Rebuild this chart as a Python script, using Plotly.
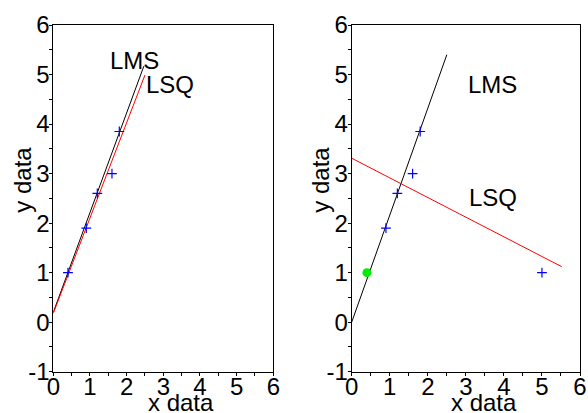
import plotly.graph_objects as go

# data
x_left = [0.4, 0.9, 1.2, 1.6, 1.8]
y_left = [1.0, 1.9, 2.6, 3.0, 3.85]
x_right = [0.9, 1.2, 1.6, 1.8, 5.0]
y_right = [1.9, 2.6, 3.0, 3.85, 1.0]
outlier_orig_x = [0.4]
outlier_orig_y = [1.0]

lms_left_x = [0.0, 2.47]
lms_left_y = [0.2, 5.17]
lsq_left_x = [0.0, 2.5]
lsq_left_y = [0.18, 4.99]

lms_right_x = [0.0, 2.5]
lms_right_y = [0.0, 5.4]
lsq_right_x = [0.0, 5.52]
lsq_right_y = [3.31, 1.12]

tick_vals = [-1, 0, 1, 2, 3, 4, 5, 6]
tick_text = ["-1", "0", "1", "2", "3", "4", "5", "6"]
xtick_vals = [0, 1, 2, 3, 4, 5, 6]
xtick_text = ["0", "1", "2", "3", "4", "5", "6"]

FONT = "Liberation Sans, Arial, sans-serif"
FS = 24

fig = go.Figure()

def add_panel(xa, ya, px, py, lms_x, lms_y, lsq_x, lsq_y):
    fig.add_trace(go.Scatter(x=lms_x, y=lms_y, mode="lines",
                             line=dict(color="black", width=1),
                             xaxis=xa, yaxis=ya, showlegend=False))
    fig.add_trace(go.Scatter(x=lsq_x, y=lsq_y, mode="lines",
                             line=dict(color="red", width=1),
                             xaxis=xa, yaxis=ya, showlegend=False))
    fig.add_trace(go.Scatter(x=px, y=py, mode="markers",
                             marker=dict(symbol="cross-thin", size=7,
                                         line=dict(color="blue", width=1.2)),
                             xaxis=xa, yaxis=ya, showlegend=False))

add_panel("x", "y", x_left, y_left, lms_left_x, lms_left_y, lsq_left_x, lsq_left_y)
add_panel("x2", "y2", x_right, y_right, lms_right_x, lms_right_y, lsq_right_x, lsq_right_y)
fig.add_trace(go.Scatter(x=outlier_orig_x, y=outlier_orig_y, mode="markers",
                         marker=dict(symbol="circle", size=9, color="#00ee00"),
                         xaxis="x2", yaxis="y2", showlegend=False))

axis_common = dict(showgrid=False, zeroline=False, showline=True, linecolor="black",
                   linewidth=1, mirror=True, ticks="outside", ticklen=3, tickcolor="black",
                   automargin=False,
                   tickfont=dict(family=FONT, size=FS, color="black"),
                   minor=dict(dtick=0.5, ticks="outside", ticklen=3, tickcolor="black"))

ydom = [1 - 371.7 / 413, 1 - 25 / 413]
fig.update_layout(
    width=588, height=413,
    margin=dict(l=0, r=0, t=0, b=0, autoexpand=False),
    plot_bgcolor="white", paper_bgcolor="white",
    xaxis=dict(domain=[53.3 / 588, 273.3 / 588], range=[0, 6], tickvals=xtick_vals,
               ticktext=xtick_text, anchor="y", ticklabelstandoff=-10, **axis_common),
    yaxis=dict(domain=ydom, range=[-1, 6], tickvals=tick_vals, ticktext=tick_text,
               anchor="x", ticklabelstandoff=-5, **axis_common),
    xaxis2=dict(domain=[351.7 / 588, 580 / 588], range=[0, 6], tickvals=xtick_vals,
                ticktext=xtick_text, anchor="y2", ticklabelstandoff=-10, **axis_common),
    yaxis2=dict(domain=ydom, range=[-1, 6], tickvals=tick_vals, ticktext=tick_text,
                anchor="x2", ticklabelstandoff=-5, **axis_common),
)

tf = dict(family=FONT, size=FS, color="black")
annots = [
    dict(x=2.22, y=5.29, xref="x", yref="y", text="LMS"),
    dict(x=3.19, y=4.79, xref="x", yref="y", text="LSQ"),
    dict(x=3.71, y=4.79, xref="x2", yref="y2", text="LMS"),
    dict(x=3.71, y=2.52, xref="x2", yref="y2", text="LSQ"),
    dict(x=180.5 / 588, y=1 - 402 / 413, xref="paper", yref="paper", text="x data"),
    dict(x=483.8 / 588, y=1 - 402 / 413, xref="paper", yref="paper", text="x data"),
    dict(x=21.7 / 588, y=1 - 180 / 413, xref="paper", yref="paper", text="y data", textangle=-90),
    dict(x=319.7 / 588, y=1 - 180 / 413, xref="paper", yref="paper", text="y data", textangle=-90),
]
for a in annots:
    fig.add_annotation(showarrow=False, font=tf, xanchor="center", yanchor="middle", **a)

fig.write_html("out.html", config={"displayModeBar": False},
               post_script="document.body.style.margin='0';document.body.style.padding='0';")
